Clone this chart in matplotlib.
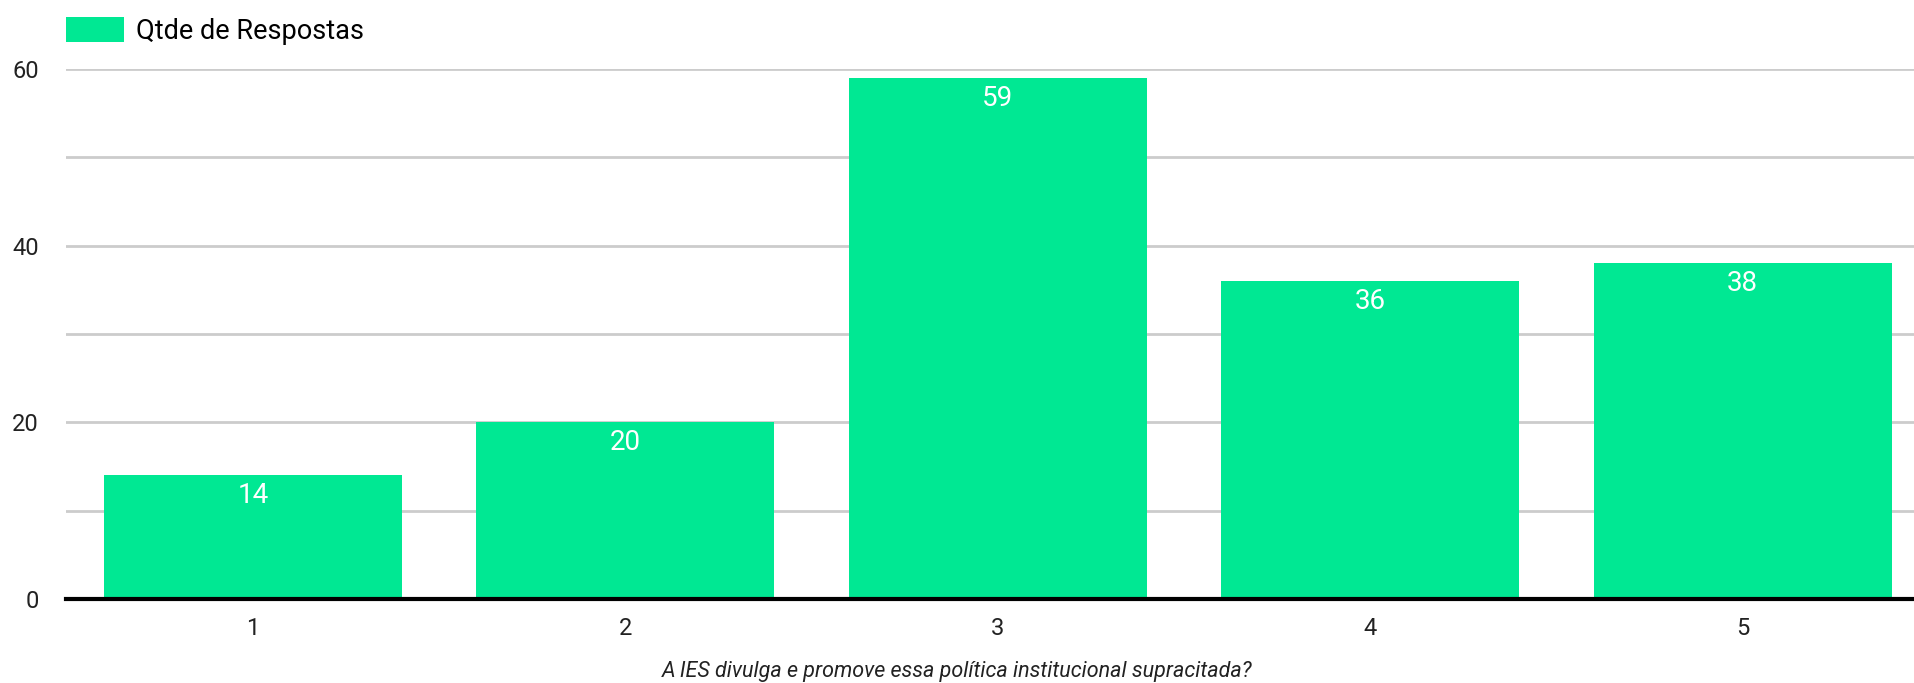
import matplotlib
matplotlib.use("Agg")
import matplotlib.pyplot as plt
from matplotlib.patches import Patch

# Survey answers
categories = ["1", "2", "3", "4", "5"]
responses = [14, 20, 59, 36, 38]
series_name = "Qtde de Respostas"
x_title = "A IES divulga e promove essa política institucional supracitada?"
y_ticks = [0, 20, 40, 60]

bar_color = "#00e893"
plt.rcParams['font.family'] = ['Roboto', 'DejaVu Sans']

fig = plt.figure(figsize=(19.14, 6.83), dpi=100)
W, H = 1914, 683
ax = fig.add_axes([66 / W, (H - 599) / H, (1914 - 66) / W, (599 - 69) / H])

xs = list(range(1, len(categories) + 1))
ax.bar(xs, responses, width=0.8, color=bar_color, zorder=3)

# value labels inside the top of each bar
for x, v in zip(xs, responses):
    ax.annotate(str(v), (x, v), xytext=(0, -5), textcoords='offset points',
                ha='center', va='top', color='white', fontsize=20, zorder=4)

ax.set_xlim(0.498, 5.46)
ax.set_ylim(0, 60)
ax.set_yticks(y_ticks)
ax.set_yticks([10, 30, 50], minor=True)
ax.set_xticks(xs)
ax.set_xticklabels(categories)
ax.tick_params(axis='both', length=0, labelsize=17, colors='#222222')
ax.tick_params(axis='y', pad=19.5, which='major')
ax.tick_params(axis='y', which='minor', length=0)
ax.tick_params(axis='x', pad=13)
ax.yaxis.grid(True, which='both', color='#cccccc', linewidth=2, zorder=0)
ax.xaxis.grid(False)
for s in ['top', 'right', 'left']:
    ax.spines[s].set_visible(False)
ax.spines['bottom'].set_linewidth(3)
ax.spines['bottom'].set_color('black')
ax.spines['bottom'].set_zorder(5)

# axis title is centred on the figure, not the plot area
fig.text(0.5, 1 - 671 / H, x_title, ha='center', va='center',
         fontsize=15.5, style='italic', color='#222222')

handles = [Patch(facecolor=bar_color, label=series_name)]
fig.legend(handles=handles, loc='upper left', bbox_to_anchor=(55 / W, 1 - 6 / H),
           frameon=False, fontsize=19.5, handlelength=2.15, handleheight=1.05,
           handletextpad=0.45, borderaxespad=0)

fig.savefig("out.png", dpi=100)
